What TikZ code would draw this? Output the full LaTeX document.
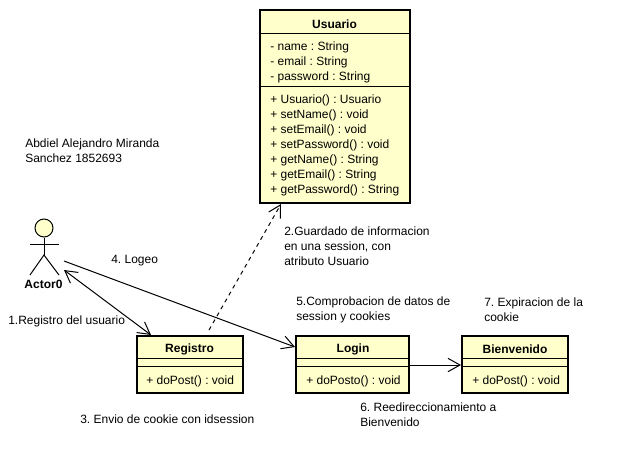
\documentclass[tikz,border=0pt]{standalone}
\usepackage{fontspec}
\setmainfont{Liberation Sans}
\frenchspacing
\usetikzlibrary{arrows.meta, positioning}
\definecolor{classcolor}{RGB}{255,255,204}

\begin{document}
\begin{tikzpicture}[x=0.75pt, y=-0.75pt]
  \tikzset{
    classbox/.style={
      draw,
      line width=1.5pt,
      fill=classcolor,
      anchor=north west,
      inner sep=0pt,
      outer sep=0pt
    },
    classname/.style={
      font=\fontsize{9}{11.25}\selectfont\bfseries,
      inner sep=0pt
    },
    members/.style={
      font=\fontsize{9}{11.25}\selectfont,
      align=left,
      anchor=west,
      inner sep=0pt
    },
    note/.style={
      font=\fontsize{9}{11.25}\selectfont,
      align=left,
      anchor=west,
      inner sep=0pt
    },
    divider/.style={
      line width=0.75pt
    },
    link/.style={
      line width=0.75pt,
      -{Straight Barb[length=9pt,width=10pt]}
    }
  }

  \useasboundingbox (0,0) rectangle (624,457);

  % Draw the class boxes
    \node[classbox, minimum width=112.5pt, minimum height=144.75pt] at (260, 10) (usuario) {};
    \node[classname] at (334.5, 24) (usuarioname) {Usuario};
    \draw[divider] (260, 33.5) -- (410, 33.5);
    \node[members] at (270, 62) (usuarioattrs) {- name : String\\- email : String\\- password : String};
    \draw[divider] (260, 86.5) -- (410, 86.5);
    \node[members] at (270, 145) (usuarioops) {+ Usuario() : Usuario\\+ setName() : void\\+ setEmail() : void\\+ setPassword() : void\\+ getName() : String\\+ getEmail() : String\\+ getPassword() : String};

    \node[classbox, minimum width=79.5pt, minimum height=42.75pt] at (137, 336) (registro) {};
    \node[classname] at (189.5, 349) (registroname) {Registro};
    \draw[divider] (137, 358.5) -- (243, 358.5);
    \draw[divider] (137, 366.5) -- (243, 366.5);
    \node[members] at (146, 381) (registroops) {+ doPost() : void};

    \node[classbox, minimum width=84.75pt, minimum height=42.75pt] at (296, 336) (login) {};
    \node[classname] at (353, 349) (loginname) {Login};
    \draw[divider] (296, 358.5) -- (409, 358.5);
    \draw[divider] (296, 366.5) -- (409, 366.5);
    \node[members] at (306, 381) (loginops) {+ doPosto() : void};

    \node[classbox, minimum width=79.5pt, minimum height=42.75pt] at (462, 336) (bienvenido) {};
    \node[classname] at (515, 349) (bienvenidoname) {Bienvenido};
    \draw[divider] (462, 358.5) -- (568, 358.5);
    \draw[divider] (462, 366.5) -- (568, 366.5);
    \node[members] at (472, 381) (bienvenidoops) {+ doPost() : void};

  % Draw the actor
    \node[circle, draw, line width=0.75pt, fill=classcolor, minimum size=13.5pt, inner sep=0pt] at (44, 228) (actor0) {};
    \coordinate (actorhip) at (44, 255);
    \coordinate (actorarml) at (30, 244);
    \coordinate (actorarmr) at (59, 244);
    \coordinate (actorlegl) at (30, 275);
    \coordinate (actorlegr) at (59, 275);
    \draw[divider] (actor0.south) -- (actorhip);
    \draw[divider] (actorarml) -- (actorarmr);
    \draw[divider] (actorlegl) -- (actorhip) -- (actorlegr);
    \node[classname] at (43.5, 284.5) (actorname) {Actor0};

  % Draw the connectors
    \coordinate (actorreg) at (64, 270);
    \coordinate (actorlog) at (64, 261);
    \coordinate (regtop) at (151, 335);
    \coordinate (regdash) at (209, 330);
    \coordinate (usuariobottom) at (281, 204);
    \coordinate (loginin) at (295, 347);
    \coordinate (loginout) at (410, 365);
    \coordinate (bienvenidoin) at (461, 365);
    \draw[link, {Straight Barb[length=9pt,width=10pt]}-{Straight Barb[length=9pt,width=10pt]}] (actorreg) -- (regtop);
    \draw[link] (actorlog) -- (loginin);
    \draw[link, dashed] (regdash) -- (usuariobottom);
    \draw[link] (loginout) -- (bienvenidoin);

  % Add the notes
    \node[note] at (25, 150.5) (autor) {Abdiel Alejandro Miranda\\Sanchez 1852693};
    \node[note] at (111, 260.5) (logeo) {4. Logeo};
    \node[note] at (8, 321.5) (registronote) {1.Registro del usuario};
    \node[note] at (80, 419.5) (envio) {3. Envio de cookie con idsession};
    \node[note] at (284, 246.5) (guardado) {2.Guardado de informacion\\en una session, con\\atributo Usuario};
    \node[note] at (296, 309.5) (comprobacion) {5.Comprobacion de datos de\\session y cookies};
    \node[note] at (484, 309.5) (expiracion) {7. Expiracion de la\\cookie};
    \node[note] at (360, 414.5) (reenvio) {6. Reedireccionamiento a\\Bienvenido};

\end{tikzpicture}
\end{document}
